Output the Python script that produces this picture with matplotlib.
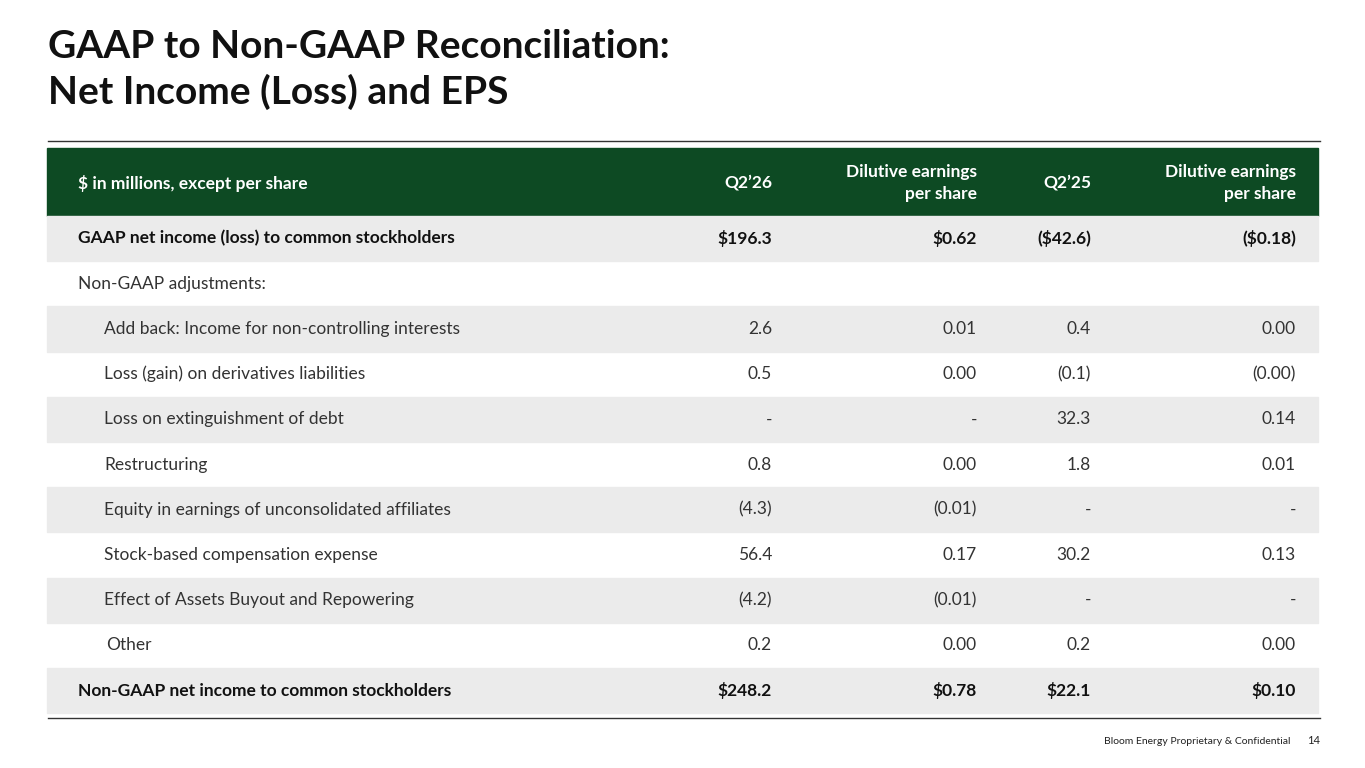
import matplotlib.pyplot as plt
from matplotlib.patches import Rectangle

plt.rcParams['font.family'] = ['Lato', 'DejaVu Sans']

W, H = 1365, 768

headers = ["$ in millions, except per share", "Q2\u201926", "Dilutive earnings\nper share",
           "Q2\u201925", "Dilutive earnings\nper share"]
labels = ["GAAP net income (loss) to common stockholders", "Non-GAAP adjustments:",
          "Add back: Income for non-controlling interests", "Loss (gain) on derivatives liabilities",
          "Loss on extinguishment of debt", "Restructuring",
          "Equity in earnings of unconsolidated affiliates", "Stock-based compensation expense",
          "Effect of Assets Buyout and Repowering", "Other",
          "Non-GAAP net income to common stockholders"]
q2_26 = ["$196.3", "", "2.6", "0.5", "-", "0.8", "(4.3)", "56.4", "(4.2)", "0.2", "$248.2"]
eps_26 = ["$0.62", "", "0.01", "0.00", "-", "0.00", "(0.01)", "0.17", "(0.01)", "0.00", "$0.78"]
q2_25 = ["($42.6)", "", "0.4", "(0.1)", "32.3", "1.8", "-", "30.2", "-", "0.2", "$22.1"]
eps_25 = ["($0.18)", "", "0.00", "(0.00)", "0.14", "0.01", "-", "0.13", "-", "0.00", "$0.10"]
bold_rows = [0, 10]
indent_rows = [2, 3, 4, 5, 6, 7, 8, 9]

fig = plt.figure(figsize=(13.65, 7.68), dpi=100)
ax = fig.add_axes([0, 0, 1, 1])
ax.set_xlim(0, W)
ax.set_ylim(H, 0)
ax.axis('off')

green = '#0D4A23'
gray = '#EBEBEB'
ax.text(48, 47, "GAAP to Non-GAAP Reconciliation:", fontsize=28, fontweight='bold',
        va='center', color='#111111')
ax.text(48, 92, "Net Income (Loss) and EPS", fontsize=28, fontweight='bold',
        va='center', color='#111111')
ax.plot([48, 1320], [141, 141], color='#333333', lw=1)

ax.add_patch(Rectangle((47, 148), 1271, 68, color=green))
col_x = [78, 772, 977, 1091, 1296]
for i, h in enumerate(headers):
    ax.text(col_x[i], 183, h, color='white', fontsize=12.5, fontweight='bold',
            va='center', ha='left' if i == 0 else 'right', linespacing=1.4)

top, rh = 216, 45.2
cols = [q2_26, eps_26, q2_25, eps_25]
for r, lab in enumerate(labels):
    y0 = top + r * rh
    if r % 2 == 0:
        ax.add_patch(Rectangle((47, y0), 1271, rh, color=gray))
    yc = y0 + rh / 2
    fw = 'bold' if r in bold_rows else 'normal'
    x = 104 if r in indent_rows else 78
    if lab == "Other":
        x = 106
    col = '#111111' if r in bold_rows else '#333333'
    ax.text(x, yc, lab, fontsize=12.5, fontweight=fw, va='center', color=col)
    for j, c in enumerate(cols):
        ax.text(col_x[j + 1], yc, c[r], fontsize=12.5, fontweight=fw, va='center',
                ha='right', color=col)

ax.plot([48, 1320], [718, 718], color='#333333', lw=1)
ax.text(1290, 741, "Bloom Energy Proprietary & Confidential", fontsize=7.5, ha='right',
        va='center', color='#222222')
ax.text(1320, 740, "14", fontsize=8, ha='right', va='center', color='#222222')

fig.savefig('out.png', dpi=100)
